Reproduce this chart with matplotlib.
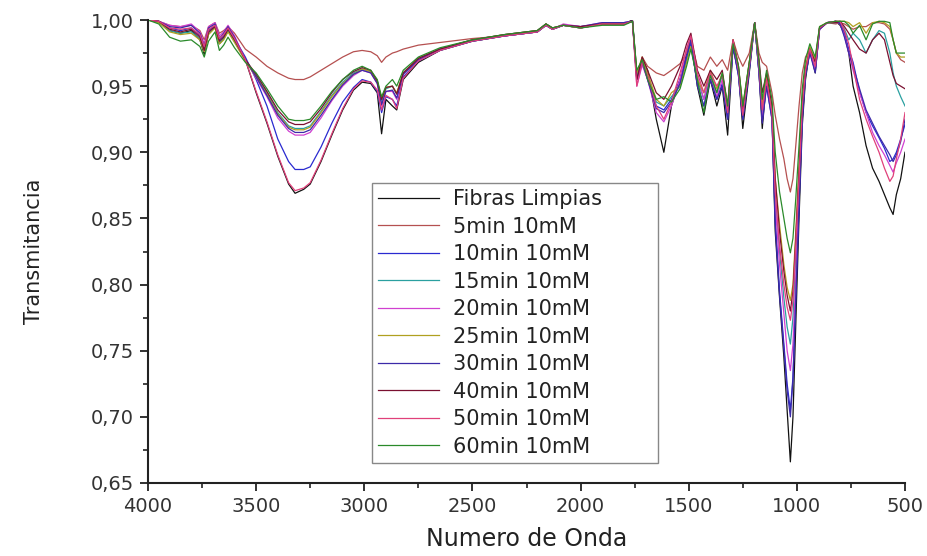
import matplotlib
matplotlib.use("Agg")
import matplotlib.pyplot as plt
from matplotlib.ticker import MultipleLocator, FixedLocator, FixedFormatter

# ---------------- data ----------------
wavenumber = [
    4000, 3950, 3900, 3850, 3800, 3760, 3740, 3720, 3690, 3670, 3650, 3630, 3600,
    3550, 3500, 3450, 3400, 3350, 3320, 3280, 3250, 3200, 3150, 3100, 3050, 3010, 2970, 2940, 2920, 2900, 2870, 2850, 2820,
    2750, 2650, 2500, 2350, 2200, 2160, 2130, 2080, 2000, 1900, 1800,
    1760, 1740, 1715, 1690, 1650, 1615, 1580, 1540, 1510, 1490, 1460, 1430, 1400, 1370, 1345, 1320, 1295, 1270, 1250, 1220, 1195, 1175, 1160, 1140, 1115,
    1100, 1080, 1060, 1045, 1030, 1018, 1005, 990, 975, 960, 940, 915, 895,
    860, 820, 800, 780, 760, 740, 710, 680, 650, 620, 595, 570, 555, 540, 520, 500,
]

fibras_limpias = [
    1.000, 0.999, 0.992, 0.990, 0.992, 0.985, 0.974, 0.990, 0.995, 0.982, 0.986, 0.992, 0.985,
    0.970, 0.945, 0.922, 0.897, 0.876, 0.869, 0.872, 0.876, 0.893, 0.913, 0.932, 0.947, 0.953, 0.952, 0.945, 0.914, 0.940, 0.935, 0.932, 0.955,
    0.968, 0.977, 0.984, 0.988, 0.991, 0.996, 0.993, 0.996, 0.994, 0.997, 0.997,
    1.000, 0.960, 0.970, 0.962, 0.925, 0.900, 0.935, 0.955, 0.975, 0.985, 0.950, 0.928, 0.955, 0.935, 0.950, 0.913, 0.980, 0.960, 0.918, 0.960, 0.998, 0.960, 0.918, 0.955, 0.928,
    0.840, 0.790, 0.745, 0.705, 0.666, 0.700, 0.770, 0.850, 0.920, 0.955, 0.978, 0.960, 0.994,
    0.998, 0.999, 0.996, 0.990, 0.975, 0.950, 0.930, 0.905, 0.888, 0.878, 0.868, 0.858, 0.853, 0.868, 0.880, 0.900,
]
min5 = [
    1.000, 0.999, 0.996, 0.995, 0.996, 0.992, 0.985, 0.995, 0.998, 0.990, 0.992, 0.995, 0.990,
    0.978, 0.972, 0.965, 0.960, 0.956, 0.955, 0.955, 0.957, 0.962, 0.967, 0.972, 0.976, 0.977, 0.976, 0.973, 0.968, 0.972, 0.975, 0.976, 0.978,
    0.981, 0.983, 0.986, 0.988, 0.991, 0.997, 0.993, 0.996, 0.995, 0.997, 0.997,
    0.999, 0.955, 0.972, 0.965, 0.960, 0.958, 0.962, 0.967, 0.975, 0.985, 0.965, 0.962, 0.972, 0.965, 0.970, 0.962, 0.985, 0.972, 0.965, 0.975, 0.998, 0.975, 0.968, 0.965, 0.945,
    0.928, 0.910, 0.895, 0.880, 0.870, 0.880, 0.905, 0.935, 0.960, 0.972, 0.978, 0.970, 0.993,
    0.998, 0.997, 0.998, 0.997, 0.995, 0.993, 0.995, 0.995, 0.998, 0.998, 0.997, 0.993, 0.985, 0.975, 0.970, 0.968,
]
min10 = [
    1.000, 0.999, 0.994, 0.992, 0.994, 0.988, 0.978, 0.992, 0.996, 0.985, 0.988, 0.994, 0.986,
    0.972, 0.955, 0.935, 0.910, 0.893, 0.887, 0.887, 0.889, 0.904, 0.922, 0.938, 0.949, 0.955, 0.953, 0.946, 0.930, 0.942, 0.940, 0.935, 0.957,
    0.969, 0.977, 0.984, 0.988, 0.991, 0.996, 0.993, 0.996, 0.994, 0.997, 0.998,
    0.999, 0.955, 0.968, 0.955, 0.935, 0.932, 0.940, 0.955, 0.972, 0.982, 0.952, 0.935, 0.955, 0.940, 0.952, 0.925, 0.980, 0.958, 0.925, 0.962, 0.998, 0.960, 0.925, 0.950, 0.925,
    0.850, 0.795, 0.755, 0.725, 0.705, 0.730, 0.790, 0.860, 0.925, 0.958, 0.976, 0.962, 0.993,
    0.998, 0.999, 0.998, 0.990, 0.978, 0.968, 0.946, 0.930, 0.920, 0.911, 0.903, 0.893, 0.895, 0.900, 0.910, 0.921,
]
min15 = [
    1.000, 0.998, 0.992, 0.990, 0.991, 0.986, 0.976, 0.990, 0.995, 0.983, 0.986, 0.992, 0.984,
    0.970, 0.958, 0.945, 0.930, 0.920, 0.918, 0.918, 0.920, 0.931, 0.943, 0.953, 0.960, 0.963, 0.961, 0.954, 0.938, 0.948, 0.950, 0.944, 0.960,
    0.971, 0.978, 0.985, 0.989, 0.992, 0.997, 0.994, 0.996, 0.995, 0.997, 0.997,
    0.999, 0.958, 0.970, 0.958, 0.938, 0.935, 0.942, 0.950, 0.970, 0.980, 0.955, 0.940, 0.960, 0.945, 0.958, 0.930, 0.982, 0.962, 0.930, 0.965, 0.998, 0.965, 0.930, 0.955, 0.930,
    0.870, 0.825, 0.790, 0.768, 0.755, 0.775, 0.820, 0.880, 0.935, 0.962, 0.978, 0.968, 0.994,
    0.998, 0.998, 0.999, 0.993, 0.985, 0.990, 0.985, 0.975, 0.985, 0.992, 0.990, 0.975, 0.960, 0.950, 0.942, 0.935,
]
min20 = [
    1.000, 0.999, 0.996, 0.995, 0.997, 0.991, 0.982, 0.995, 0.998, 0.988, 0.991, 0.996, 0.988,
    0.970, 0.956, 0.942, 0.926, 0.916, 0.913, 0.913, 0.915, 0.926, 0.939, 0.950, 0.958, 0.962, 0.960, 0.952, 0.935, 0.946, 0.946, 0.940, 0.959,
    0.970, 0.978, 0.985, 0.988, 0.991, 0.996, 0.993, 0.997, 0.995, 0.998, 0.998,
    0.999, 0.950, 0.966, 0.955, 0.930, 0.923, 0.935, 0.955, 0.978, 0.988, 0.958, 0.940, 0.958, 0.942, 0.955, 0.928, 0.982, 0.960, 0.928, 0.965, 0.998, 0.962, 0.925, 0.952, 0.928,
    0.860, 0.815, 0.778, 0.750, 0.735, 0.755, 0.805, 0.870, 0.930, 0.960, 0.976, 0.962, 0.993,
    0.998, 0.999, 0.997, 0.988, 0.975, 0.962, 0.945, 0.930, 0.915, 0.905, 0.898, 0.890, 0.885, 0.892, 0.900, 0.910,
]
min25 = [
    1.000, 0.998, 0.991, 0.989, 0.990, 0.985, 0.976, 0.989, 0.994, 0.982, 0.985, 0.991, 0.983,
    0.969, 0.957, 0.944, 0.929, 0.919, 0.917, 0.917, 0.919, 0.930, 0.942, 0.952, 0.959, 0.963, 0.961, 0.953, 0.940, 0.949, 0.950, 0.945, 0.960,
    0.971, 0.978, 0.985, 0.989, 0.992, 0.997, 0.994, 0.996, 0.994, 0.997, 0.997,
    0.999, 0.960, 0.972, 0.960, 0.940, 0.935, 0.945, 0.950, 0.968, 0.980, 0.955, 0.945, 0.962, 0.948, 0.960, 0.935, 0.985, 0.965, 0.935, 0.968, 0.998, 0.968, 0.935, 0.958, 0.935,
    0.880, 0.845, 0.815, 0.798, 0.788, 0.800, 0.840, 0.890, 0.940, 0.965, 0.980, 0.970, 0.995,
    0.998, 0.999, 0.999, 0.999, 0.998, 0.995, 0.998, 0.990, 0.998, 0.999, 0.998, 0.995, 0.985, 0.975, 0.972, 0.972,
]
min30 = [
    1.000, 0.999, 0.995, 0.994, 0.996, 0.990, 0.980, 0.994, 0.997, 0.986, 0.990, 0.995, 0.987,
    0.970, 0.957, 0.943, 0.928, 0.918, 0.915, 0.915, 0.917, 0.928, 0.940, 0.951, 0.959, 0.962, 0.960, 0.952, 0.936, 0.946, 0.947, 0.941, 0.959,
    0.970, 0.978, 0.984, 0.988, 0.991, 0.996, 0.993, 0.996, 0.995, 0.998, 0.998,
    0.999, 0.955, 0.968, 0.955, 0.933, 0.930, 0.938, 0.952, 0.972, 0.985, 0.950, 0.935, 0.955, 0.940, 0.950, 0.925, 0.980, 0.958, 0.925, 0.962, 0.998, 0.960, 0.922, 0.950, 0.925,
    0.845, 0.792, 0.752, 0.720, 0.700, 0.728, 0.790, 0.860, 0.925, 0.958, 0.975, 0.960, 0.993,
    0.998, 0.999, 0.997, 0.987, 0.975, 0.965, 0.948, 0.932, 0.922, 0.912, 0.905, 0.898, 0.893, 0.898, 0.908, 0.925,
]
min40 = [
    1.000, 0.999, 0.993, 0.991, 0.993, 0.987, 0.977, 0.991, 0.995, 0.984, 0.987, 0.993, 0.985,
    0.970, 0.959, 0.946, 0.932, 0.923, 0.921, 0.921, 0.923, 0.933, 0.945, 0.955, 0.961, 0.964, 0.962, 0.954, 0.940, 0.949, 0.950, 0.944, 0.960,
    0.971, 0.978, 0.985, 0.989, 0.992, 0.997, 0.994, 0.996, 0.995, 0.997, 0.997,
    0.999, 0.955, 0.972, 0.962, 0.945, 0.940, 0.950, 0.965, 0.982, 0.990, 0.962, 0.950, 0.962, 0.955, 0.962, 0.935, 0.985, 0.965, 0.932, 0.968, 0.998, 0.970, 0.945, 0.960, 0.935,
    0.880, 0.840, 0.810, 0.792, 0.780, 0.795, 0.835, 0.885, 0.938, 0.962, 0.978, 0.968, 0.994,
    0.998, 0.998, 0.999, 0.995, 0.990, 0.985, 0.978, 0.975, 0.985, 0.990, 0.985, 0.968, 0.958, 0.952, 0.950, 0.948,
]
min50 = [
    1.000, 0.999, 0.994, 0.993, 0.994, 0.989, 0.980, 0.993, 0.996, 0.986, 0.989, 0.994, 0.986,
    0.970, 0.946, 0.923, 0.898, 0.877, 0.871, 0.873, 0.877, 0.894, 0.914, 0.933, 0.948, 0.954, 0.953, 0.947, 0.932, 0.943, 0.940, 0.933, 0.956,
    0.969, 0.977, 0.984, 0.988, 0.991, 0.996, 0.993, 0.996, 0.994, 0.997, 0.997,
    0.999, 0.950, 0.968, 0.958, 0.935, 0.925, 0.938, 0.960, 0.978, 0.988, 0.960, 0.945, 0.960, 0.950, 0.958, 0.930, 0.985, 0.962, 0.928, 0.965, 0.998, 0.965, 0.932, 0.955, 0.930,
    0.870, 0.830, 0.800, 0.783, 0.773, 0.788, 0.830, 0.880, 0.935, 0.962, 0.978, 0.965, 0.994,
    0.998, 0.999, 0.999, 0.992, 0.982, 0.965, 0.940, 0.925, 0.912, 0.900, 0.888, 0.878, 0.882, 0.895, 0.910, 0.930,
]
min60 = [
    1.000, 0.997, 0.987, 0.984, 0.985, 0.980, 0.972, 0.984, 0.991, 0.977, 0.981, 0.987, 0.979,
    0.968, 0.960, 0.948, 0.935, 0.925, 0.924, 0.924, 0.925, 0.935, 0.946, 0.955, 0.962, 0.965, 0.962, 0.955, 0.942, 0.950, 0.955, 0.950, 0.962,
    0.972, 0.979, 0.985, 0.989, 0.992, 0.997, 0.994, 0.996, 0.994, 0.996, 0.996,
    0.999, 0.962, 0.970, 0.955, 0.940, 0.942, 0.938, 0.948, 0.965, 0.978, 0.955, 0.930, 0.958, 0.945, 0.960, 0.935, 0.982, 0.965, 0.935, 0.968, 0.998, 0.968, 0.940, 0.962, 0.940,
    0.900, 0.870, 0.850, 0.835, 0.824, 0.835, 0.865, 0.905, 0.948, 0.970, 0.982, 0.972, 0.995,
    0.998, 0.999, 0.999, 0.999, 0.996, 0.990, 0.996, 0.985, 0.997, 0.999, 0.999, 0.998, 0.985, 0.975, 0.975, 0.975,
]

series_labels = ["Fibras Limpias", "5min 10mM", "10min 10mM", "15min 10mM", "20min 10mM",
                 "25min 10mM", "30min 10mM", "40min 10mM", "50min 10mM", "60min 10mM"]
series_values = [fibras_limpias, min5, min10, min15, min20, min25, min30, min40, min50, min60]
series_colors = ["#111111", "#b55050", "#2a2ad0", "#2aa0a0", "#d040d0",
                 "#b0a020", "#3c2aa8", "#7a1030", "#e0407a", "#2a8a2a"]

x_ticks = [4000, 3500, 3000, 2500, 2000, 1500, 1000, 500]
x_tick_labels = ["4000", "3500", "3000", "2500", "2000", "1500", "1000", "500"]
y_ticks = [0.65, 0.70, 0.75, 0.80, 0.85, 0.90, 0.95, 1.00]
y_tick_labels = ["0,65", "0,70", "0,75", "0,80", "0,85", "0,90", "0,95", "1,00"]

# ---------------- figure ----------------
plt.rcParams['font.family'] = ['DejaVu Sans']
fig = plt.figure(figsize=(9.28, 5.56), dpi=100)
ax = fig.add_axes([148 / 928, 1 - 483 / 556, 757 / 928, 463 / 556])

for vals, lab, col in zip(series_values, series_labels, series_colors):
    ax.plot(wavenumber, vals, color=col, lw=0.9, label=lab)

ax.set_xlim(4000, 500)
ax.set_ylim(0.65, 1.00)

ax.xaxis.set_major_locator(FixedLocator(x_ticks))
ax.xaxis.set_major_formatter(FixedFormatter(x_tick_labels))
ax.xaxis.set_minor_locator(MultipleLocator(250))
ax.yaxis.set_major_locator(FixedLocator(y_ticks))
ax.yaxis.set_major_formatter(FixedFormatter(y_tick_labels))
ax.yaxis.set_minor_locator(MultipleLocator(0.025))

for s in ["top", "right"]:
    ax.spines[s].set_visible(False)
for s in ["left", "bottom"]:
    ax.spines[s].set_linewidth(1.5)
    ax.spines[s].set_color("#222222")

ax.tick_params(axis="both", which="major", direction="out", length=6, width=1.3,
               labelsize=14, colors="#222222", labelcolor="#333333", pad=4)
ax.tick_params(axis="both", which="minor", direction="out", length=3.5, width=1.2, colors="#222222")

ax.set_xlabel("Numero de Onda", fontsize=17, color="#222222", labelpad=8)
ax.set_ylabel("Transmitancia", fontsize=15, color="#222222", labelpad=34)

leg = ax.legend(loc="upper left", bbox_to_anchor=(0.296, 0.045, 0.378, 0.603), mode="expand",
                fontsize=15, labelspacing=0.36, handlelength=2.9, handletextpad=0.7,
                borderpad=0.3, borderaxespad=0.0, frameon=True, fancybox=False,
                edgecolor="#888888", framealpha=1.0)
leg.get_frame().set_linewidth(1.0)
for t in leg.get_texts():
    t.set_color("#222222")

fig.savefig("out.png", dpi=100)
